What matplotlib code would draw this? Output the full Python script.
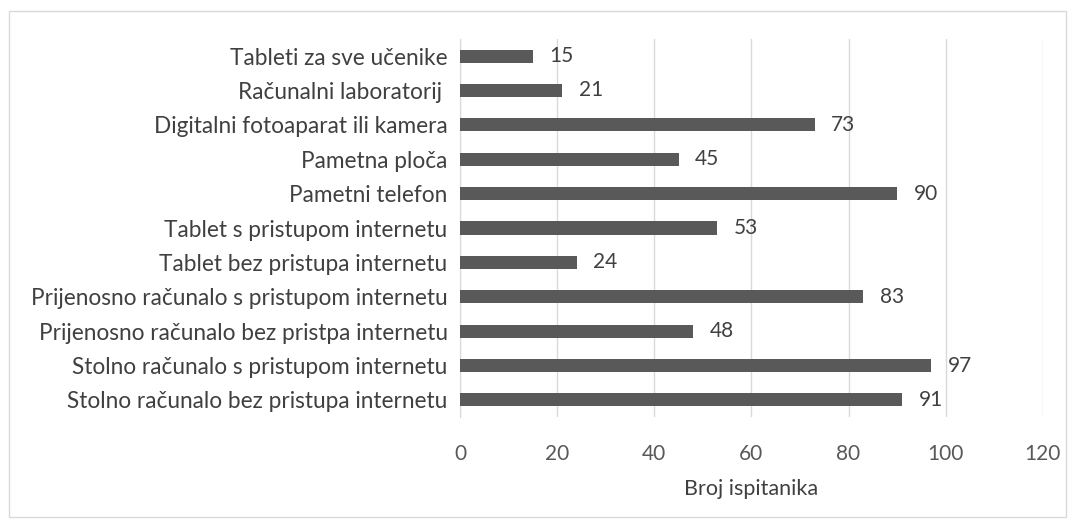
import matplotlib.pyplot as plt
from matplotlib.patches import Rectangle

categories = [
    'Stolno računalo bez pristupa internetu',
    'Stolno računalo s pristupom internetu',
    'Prijenosno računalo bez pristpa internetu',
    'Prijenosno računalo s pristupom internetu',
    'Tablet bez pristupa internetu',
    'Tablet s pristupom internetu',
    'Pametni telefon',
    'Pametna ploča',
    'Digitalni fotoaparat ili kamera',
    'Računalni laboratorij ',
    'Tableti za sve učenike',
]
values = [91, 97, 48, 83, 24, 53, 90, 45, 73, 21, 15]
xticks = [0, 20, 40, 60, 80, 100, 120]

plt.rcParams['font.family'] = ['Lato', 'DejaVu Sans']
grey = '#595959'

fig = plt.figure(figsize=(10.75, 5.26), dpi=100)
ax = fig.add_axes([0.428, 0.207, 0.542, 0.719])

ypos = range(len(categories))
bars = ax.barh(ypos, values, height=0.38, color=grey, zorder=3)
for b, v in zip(bars, values):
    ax.annotate(str(v), (b.get_width(), b.get_y() + b.get_height() / 2),
                xytext=(12, 0), textcoords='offset points',
                va='center', ha='left', fontsize=15, color='#404040')

ax.set_yticks(list(ypos))
ax.set_yticklabels(categories, fontsize=16.3, color='#404040')
ax.set_xticks(xticks)
ax.set_xticklabels([str(t) for t in xticks], fontsize=15, color='#595959')
ax.set_xlim(0, 120)
ax.set_ylim(-0.5, len(categories) - 0.5)
ax.set_xlabel('Broj ispitanika', fontsize=15.5, color='#404040', labelpad=11)

ax.grid(axis='x', color='#d9d9d9', linewidth=1, zorder=0)
ax.tick_params(length=0)
ax.tick_params(axis='y', pad=9)
ax.tick_params(axis='x', pad=19)
for s in ['top', 'right', 'bottom']:
    ax.spines[s].set_visible(False)
ax.spines['left'].set_color('#d9d9d9')

fig.patches.append(Rectangle((0.008, 0.017), 0.984, 0.963, transform=fig.transFigure,
                             fill=False, edgecolor='#d9d9d9', linewidth=1))

fig.savefig('out.png')
